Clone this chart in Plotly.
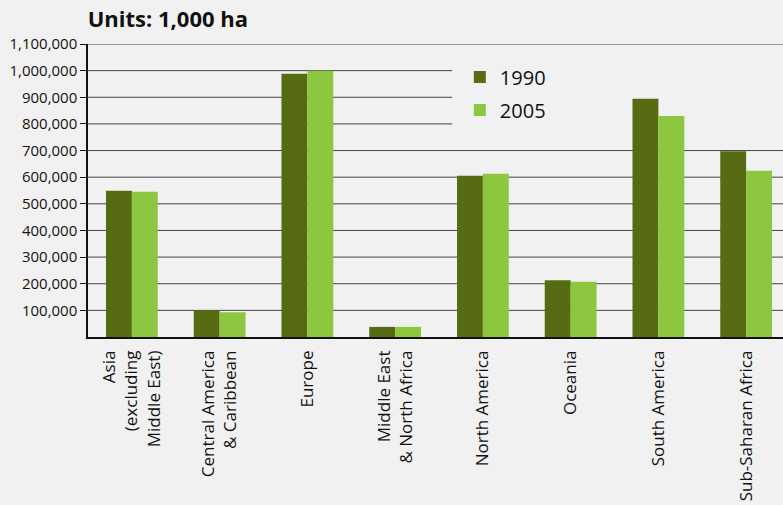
import plotly.graph_objects as go

categories = ["Asia<br>(excluding<br>Middle East)", "Central America<br>& Caribbean", "Europe",
              "Middle East<br>& North Africa", "North America", "Oceania", "South America",
              "Sub-Saharan Africa"]
values_1990 = [549000, 100000, 988000, 38000, 605000, 213000, 894000, 697000]
values_2005 = [545000, 93000, 1000000, 38000, 613000, 207000, 830000, 624000]
tick_vals = [100000, 200000, 300000, 400000, 500000, 600000, 700000, 800000, 900000, 1000000, 1100000]
tick_text = ["100,000", "200,000", "300,000", "400,000", "500,000", "600,000", "700,000",
             "800,000", "900,000", "1,000,000", "1,100,000"]

BG = "#f1f1f1"
FONT = "Open Sans"
GRID = "#444444"

fig = go.Figure()
fig.add_trace(go.Bar(x=categories, y=values_1990, name="1990", marker_color="#566b12",
                     marker_line_width=0, legendgroup="a"))
fig.add_trace(go.Bar(x=categories, y=values_2005, name="2005", marker_color="#8dc63f",
                     marker_line_width=0, legendgroup="b"))

# gridlines at the tick values (drawn under the bars)
for v in tick_vals:
    fig.add_shape(type="line", xref="x domain", yref="y", x0=0, x1=1, y0=v, y1=v,
                  line=dict(color=GRID, width=1), layer="below")
# plain background patch behind the legend, hiding the gridlines there
fig.add_shape(type="rect", xref="x domain", yref="y domain", x0=0.524, x1=1.0, y0=0.67, y1=0.962,
              fillcolor=BG, line_width=0, layer="below")

fig.update_layout(
    width=783, height=505,
    paper_bgcolor=BG, plot_bgcolor=BG,
    margin=dict(l=88, r=0, t=44, b=168),
    barmode="group", bargap=0.41, bargroupgap=0,
    font=dict(family=FONT, color="#111111"),
    title=dict(text="<b>Units: 1,000 ha</b>", x=0.112, xanchor="left", y=0.962, yanchor="middle",
               font=dict(size=22, family=FONT, color="#111111")),
    legend=dict(x=0.535, xanchor="left", y=0.954, yanchor="top", bgcolor="rgba(0,0,0,0)",
                font=dict(size=20, family=FONT, color="#111111"), traceorder="grouped",
                tracegroupgap=4, itemwidth=30),
    showlegend=True,
)
fig.update_xaxes(range=[-0.5, 7.42], showline=True, linecolor="#111111", linewidth=1.5,
                 ticks="", tickangle=-90, tickfont=dict(size=17, family=FONT, color="#111111"),
                 ticklabelstandoff=5, showgrid=False)
fig.update_yaxes(range=[0, 1100000], tickvals=tick_vals, ticktext=tick_text,
                 showline=True, linecolor="#111111", linewidth=1.5,
                 ticks="outside", ticklen=6, tickcolor="#111111",
                 showgrid=False,
                 tickfont=dict(size=15, family=FONT, color="#111111"), zeroline=False)

fig.write_html("out.html", config={"displayModeBar": False},
               post_script="document.body.style.margin='0px';")
